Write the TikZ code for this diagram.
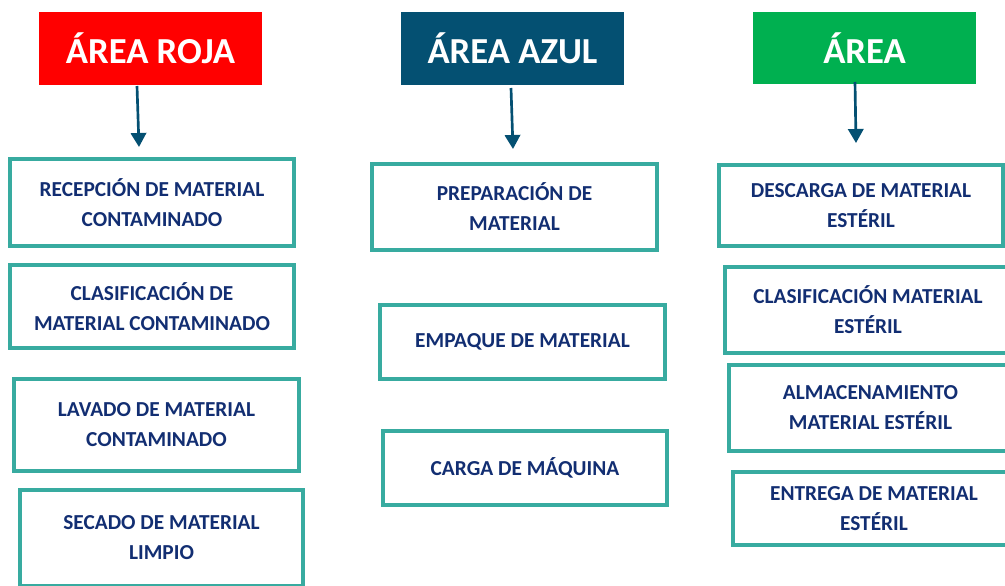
\documentclass[tikz,border=0pt]{standalone}
\usepackage{fontspec}
\setmainfont{Carlito}
\usepackage{tikz}
\usetikzlibrary{arrows.meta}
\usetikzlibrary{positioning}
\definecolor{rojo}{RGB}{255,0,0}
\definecolor{azul}{RGB}{4,80,114}
\definecolor{verde}{RGB}{0,176,80}
\definecolor{borde}{RGB}{56,171,160}
\definecolor{texto}{RGB}{18,46,114}
\tikzset{caja/.style = {draw = borde, line width = 3.3pt, fill = white, rectangle,
    inner sep = 0, align = center, text = texto,
    font = \fontsize{16}{22.5}\selectfont\bfseries}}
\tikzset{titulo/.style = {rectangle, inner sep = 0, text = white,
    minimum width = 167.25pt, minimum height = 54.75pt,
    font = \fontsize{27.5}{30}\selectfont\bfseries}}
\tikzset{flecha/.style = {draw = azul, line width = 2pt,
    -{Triangle[width = 11.5pt, length = 10.5pt]}}}

\begin{document}
\begin{tikzpicture}[x = 0.75pt, y = -0.75pt]
    \clip (0, 0) rectangle (1005, 585);

    % titulos
    \node [titulo, fill = rojo] (roja) at (150.5, 48.5) {ÁREA ROJA};
    \node [titulo, fill = azul] (azul) at (512.5, 48.5) {ÁREA AZUL};
    \node [titulo, fill = verde, minimum height = 54pt] (verde) at (864.5, 48) {ÁREA};

    % area roja
    \node [caja, minimum width = 212.6pt, minimum height = 64.9pt] (recepcion) at (152, 202.5)
      {RECEPCIÓN DE MATERIAL\\CONTAMINADO};
    \node [caja, minimum width = 212.6pt, minimum height = 61.9pt] (clasifcont) at (152, 306.5)
      {CLASIFICACIÓN DE\\MATERIAL CONTAMINADO};
    \node [caja, minimum width = 213.4pt, minimum height = 68.6pt] (lavado) at (156.5, 425)
      {LAVADO DE MATERIAL\\CONTAMINADO};
    \node [caja, minimum width = 211.9pt, minimum height = 71.6pt] (secado) at (161.5, 538)
      {SECADO DE MATERIAL\\LIMPIO};

    % area azul
    \node [caja, minimum width = 213.4pt, minimum height = 64.1pt] (preparacion) at (514.5, 207)
      {PREPARACIÓN DE\\MATERIAL};
    \node [caja, minimum width = 213.4pt, minimum height = 55.1pt] (empaque) at (522.5, 342)
      {EMPAQUE DE MATERIAL};
    \node [caja, minimum width = 212.6pt, minimum height = 55.1pt] (carga) at (525, 468)
      {CARGA DE MÁQUINA};

    % area verde
    \node [caja, minimum width = 212.6pt, minimum height = 60.4pt] (descarga) at (861, 205.5)
      {DESCARGA DE MATERIAL\\ESTÉRIL};
    \node [caja, minimum width = 214.1pt, minimum height = 64.1pt] (clasifest) at (868, 310)
      {CLASIFICACIÓN MATERIAL\\ESTÉRIL};
    \node [caja, minimum width = 211.9pt, minimum height = 64.1pt] (almacen) at (870.5, 408)
      {ALMACENAMIENTO\\MATERIAL ESTÉRIL};
    \node [caja, minimum width = 211.1pt, minimum height = 54.4pt] (entrega) at (874, 508.5)
      {ENTREGA DE MATERIAL\\ESTÉRIL};

    % flechas
    \coordinate (r0) at (137, 86);
    \coordinate (r1) at (139, 147);
    \coordinate (a0) at (511, 88);
    \coordinate (a1) at (513, 149);
    \coordinate (v0) at (855, 82);
    \coordinate (v1) at (856, 143);
    \draw [flecha] (r0) -- (r1);
    \draw [flecha] (a0) -- (a1);
    \draw [flecha] (v0) -- (v1);
  \end{tikzpicture}
\end{document}
